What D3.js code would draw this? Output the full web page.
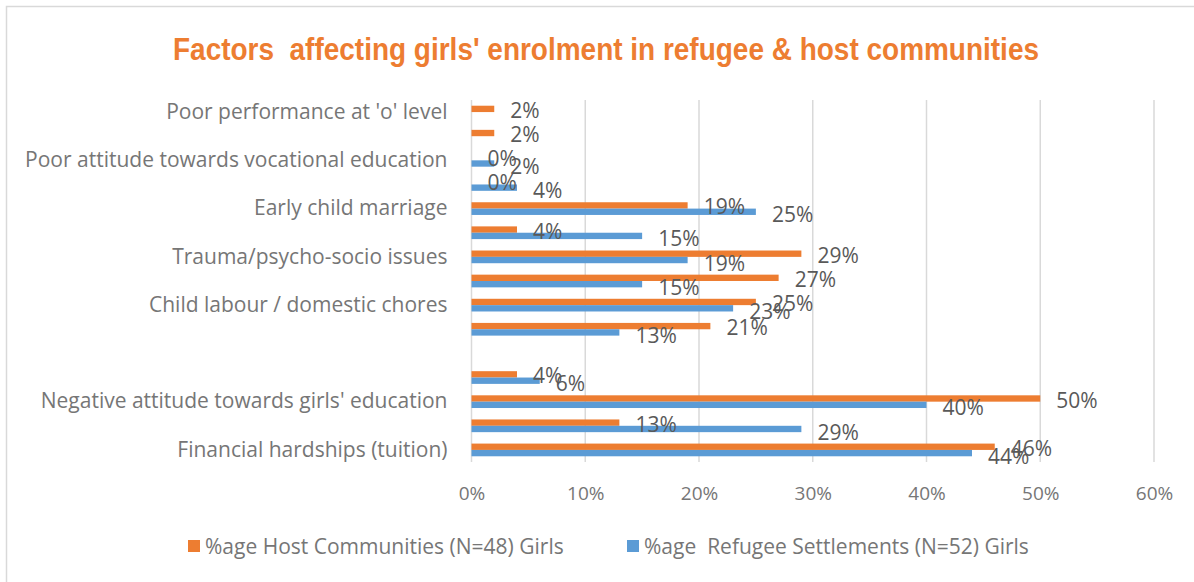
<!DOCTYPE html>
<html>
<head>
<meta charset="utf-8">
<script src="https://cdn.jsdelivr.net/npm/d3@7"></script>
<style>
  html, body { margin: 0; padding: 0; background: #fff; }
  svg { display: block; }
  text { font-family: "Open Sans", "Noto Sans", sans-serif; }
</style>
</head>
<body>
<svg id="chart" width="1194" height="582"></svg>
<script>
// Category rows, top to bottom (every second axis label is left blank)
const categories = [
  "Poor performance at 'o' level", "",
  "Poor attitude towards vocational education", "",
  "Early child marriage", "",
  "Trauma/psycho-socio issues", "",
  "Child labour / domestic chores", "",
  "", "",
  "Negative attitude towards girls' education", "",
  "Financial hardships (tuition)"
];

// Share of girls per row (null = no value)
const hostValues =    [0.02, 0.02, 0.00, 0.00, 0.19, 0.04, 0.29, 0.27, 0.25, 0.21, null, 0.04, 0.50, 0.13, 0.46];
const refugeeValues = [null, null, 0.02, 0.04, 0.25, 0.15, 0.19, 0.15, 0.23, 0.13, null, 0.06, 0.40, 0.29, 0.44];

const seriesNames = ["%age Host Communities (N=48) Girls", "%age  Refugee Settlements (N=52) Girls"];
const seriesColors = ["#ED7D31", "#5B9BD5"];
const xTicks = [0, 0.1, 0.2, 0.3, 0.4, 0.5, 0.6];
const chartTitle = "Factors  affecting girls' enrolment in refugee & host communities";

const svg = d3.select("#chart");

// Outer chart frame
svg.append("rect")
  .attr("x", 6.5).attr("y", 6.5)
  .attr("width", 1400).attr("height", 800)
  .attr("fill", "none").attr("stroke", "#d9d9d9").attr("stroke-width", 1.5);

// Title
svg.append("text")
  .attr("x", 173).attr("y", 60)
  .attr("textLength", 866).attr("lengthAdjust", "spacingAndGlyphs")
  .style("font-family", "'Liberation Sans Narrow', 'Liberation Sans', Arial, sans-serif")
  .style("font-weight", "bold")
  .style("font-size", "32px")
  .style("white-space", "pre")
  .attr("fill", "#ED7D31")
  .text(chartTitle);

const x = d3.scaleLinear().domain([0, 0.6]).range([471.5, 1154]);
const y = d3.scaleBand().domain(d3.range(categories.length)).range([100, 462]);
const sub = d3.scaleBand().domain([0, 1]).range([0, y.bandwidth()]).paddingOuter(0.9);

// Vertical gridlines
svg.append("g")
  .selectAll("line")
  .data(xTicks)
  .join("line")
  .attr("x1", d => x(d)).attr("x2", d => x(d))
  .attr("y1", 100).attr("y2", 462)
  .attr("stroke", "#d9d9d9").attr("stroke-width", 1.5);

// X axis labels
const xAxis = svg.append("g")
  .attr("transform", "translate(0,462)")
  .call(d3.axisBottom(x).tickValues(xTicks).tickFormat(d3.format(".0%")).tickSize(0).tickPadding(25));
xAxis.select(".domain").remove();
xAxis.selectAll("text")
  .style("font-family", "'Open Sans', sans-serif")
  .style("font-size", "19px")
  .attr("fill", "#767676");

// Y axis labels
const yAxis = svg.append("g")
  .attr("transform", "translate(471.5,0)")
  .call(d3.axisLeft(y).tickFormat(i => categories[i]).tickSize(0).tickPadding(24));
yAxis.select(".domain").remove();
yAxis.selectAll("text")
  .style("font-family", "'Open Sans', sans-serif")
  .style("font-size", "21px")
  .attr("fill", "#767676");

// Flatten series into bar records
const series = [hostValues, refugeeValues];
const bars = [];
series.forEach((vals, s) => {
  vals.forEach((v, i) => {
    if (v !== null) bars.push({ row: i, s, v });
  });
});

svg.append("g")
  .selectAll("rect")
  .data(bars)
  .join("rect")
  .attr("x", x(0))
  .attr("y", d => y(d.row) + sub(d.s))
  .attr("width", d => x(d.v) - x(0))
  .attr("height", sub.bandwidth())
  .attr("fill", d => seriesColors[d.s]);

// Value labels
svg.append("g")
  .selectAll("text")
  .data(bars)
  .join("text")
  .attr("x", d => x(d.v) + 16)
  .attr("y", d => y(d.row) + sub(d.s) + sub.bandwidth() / 2 + (d.s === 0 ? 1.5 : 3))
  .attr("dy", "0.36em")
  .style("font-size", "21px")
  .attr("fill", "#595959")
  .text(d => d3.format(".0%")(d.v));

// Legend
const legendX = [188, 627];
const legend = svg.append("g")
  .selectAll("g")
  .data(seriesNames)
  .join("g")
  .attr("transform", (d, i) => `translate(${legendX[i]},540)`);
legend.append("rect")
  .attr("width", 12).attr("height", 12)
  .attr("fill", (d, i) => seriesColors[i]);
legend.append("text")
  .attr("x", 17).attr("y", 6)
  .attr("dy", "0.36em")
  .style("font-size", "21px")
  .style("white-space", "pre")
  .attr("fill", "#767676")
  .text(d => d);
</script>
</body>
</html>
